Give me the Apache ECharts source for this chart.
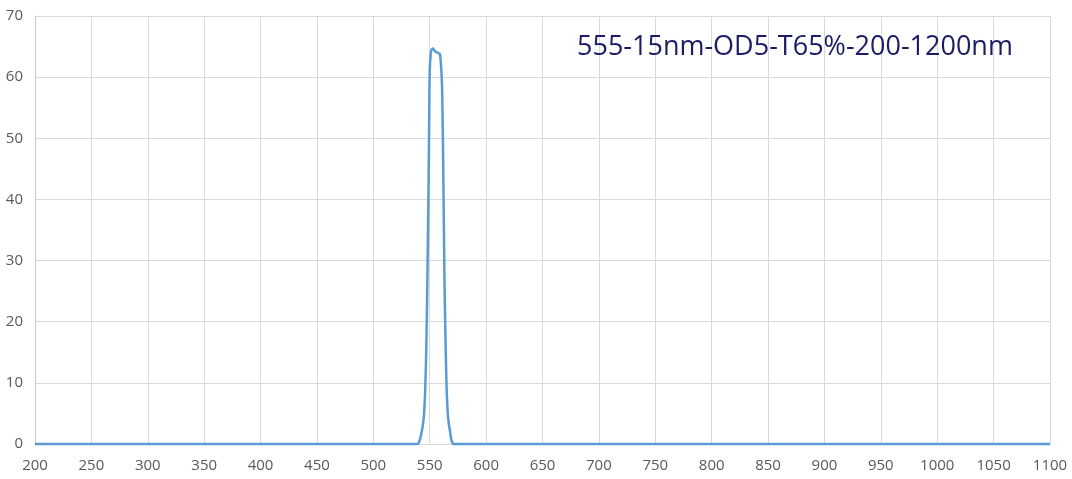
<!DOCTYPE html>
<html>

<head>
  <meta charset="UTF-8">
  <title>555-15nm Filter Transmission</title>
  <script src="https://cdn.jsdelivr.net/npm/echarts@6/dist/echarts.min.js"></script>
  <style>
    body {
      margin: 0;
      padding: 0;
      background: #ffffff;
    }

    #chart {
      width: 1072px;
      height: 479px;
    }
  </style>
</head>

<body>
  <div id="chart"></div>

  <script>
    // wavelength (nm) and transmission (%)
    var wavelengths = [200, 300, 400, 500, 530, 538, 540, 542, 544, 545, 546, 547, 548, 549, 549.5, 550, 551, 552, 553,
      554, 555, 556, 557, 558, 559, 560, 561, 562, 563, 564, 565, 566, 567, 568, 569, 570, 571, 580, 700, 900, 1100];
    var transmission = [0, 0, 0, 0, 0, 0, 0.1, 1.2, 3.2, 5, 9, 16, 28, 43, 52, 61, 64, 64.6, 64.7,
      64.4, 64.2, 64.1, 64.0, 63.9, 63.8, 62, 58, 45, 28, 17, 9, 5, 3.2, 2.1, 0.8, 0.2, 0, 0, 0, 0, 0];
    var chartTitle = "555-15nm-OD5-T65%-200-1200nm";
    var xMin = 200, xMax = 1100, xStep = 50;
    var yMin = 0, yMax = 70, yStep = 10;

    var points = [];
    for (var i = 0; i < wavelengths.length; i++) {
      points.push([wavelengths[i], transmission[i]]);
    }

    var chart = echarts.init(document.getElementById('chart'), null, { renderer: 'canvas' });

    chart.setOption({
      animation: false,
      title: {
        text: chartTitle,
        left: 577,
        top: 34,
        padding: 0,
        textStyle: {
          fontFamily: 'Open Sans',
          fontSize: 27,
          fontWeight: 'normal',
          color: '#1c1c66'
        }
      },
      grid: {
        left: 35,
        right: 22,
        top: 16,
        bottom: 35
      },
      xAxis: {
        type: 'value',
        min: xMin,
        max: xMax,
        interval: xStep,
        axisLine: { show: false },
        axisTick: { show: false },
        axisLabel: {
          margin: 14,
          fontFamily: 'Open Sans',
          fontSize: 15,
          color: '#595959',
          formatter: function (v) { return String(v); }
        },
        splitLine: { lineStyle: { color: '#d9d9d9', width: 1 } }
      },
      yAxis: {
        type: 'value',
        min: yMin,
        max: yMax,
        interval: yStep,
        axisLine: { show: true, lineStyle: { color: '#c8c8c8', width: 1 } },
        axisTick: { show: false },
        axisLabel: {
          margin: 12,
          fontFamily: 'Open Sans',
          fontSize: 15,
          color: '#595959'
        },
        splitLine: { lineStyle: { color: '#d9d9d9', width: 1 } }
      },
      series: [{
        type: 'line',
        data: points,
        showSymbol: false,
        smooth: 0.3,
        clip: false,
        lineStyle: { color: '#5b9bd5', width: 2.5 }
      }]
    });
  </script>
</body>

</html>
